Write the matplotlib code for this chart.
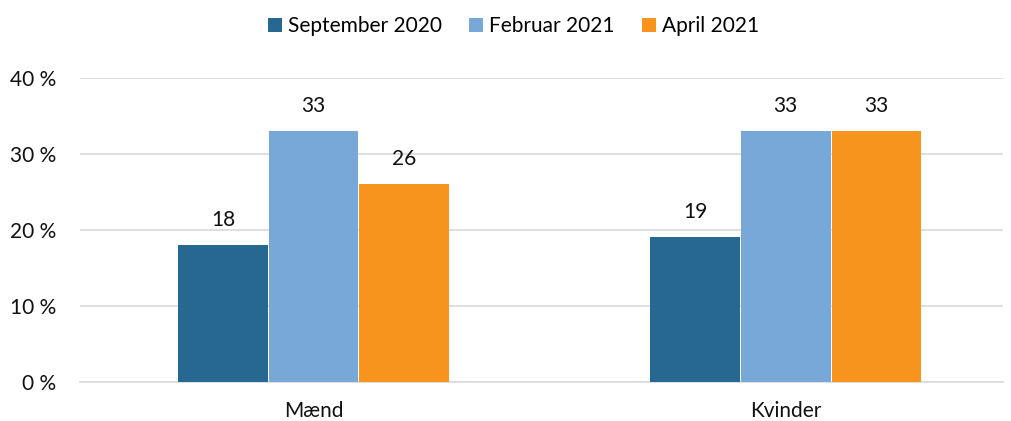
import numpy as np
import matplotlib.pyplot as plt

plt.rcParams['font.family'] = ['Lato', 'DejaVu Sans']

categories = ['Mænd', 'Kvinder']
series = ['September 2020', 'Februar 2021', 'April 2021']
values = [
    [18, 19],
    [33, 33],
    [26, 33],
]
colors = ['#276891', '#78A8D8', '#F7941D']

fig = plt.figure(figsize=(10.11, 4.21), dpi=100)
ax = fig.add_axes([0.079, 0.093, 0.913, 0.722])

x = np.arange(len(categories))
w = 0.192
for i, (name, vals) in enumerate(zip(series, values)):
    pos = x + (i - 1) * w
    bars = ax.bar(pos, vals, w * 0.99, color=colors[i], label=name, zorder=3)
    for b, v in zip(bars, vals):
        ax.text(b.get_x() + b.get_width() / 2, v + 3.3, str(v),
                ha='center', va='center', fontsize=15, color='#111111')

ax.set_xlim(-0.495, 1.46)
ax.set_ylim(0, 40)
ax.set_yticks([0, 10, 20, 30, 40])
ax.set_yticklabels(['0 %', '10 %', '20 %', '30 %', '40 %'])
ax.set_xticks(x)
ax.set_xticklabels(categories)
ax.tick_params(axis='both', length=0, labelsize=15, colors='#111111')
ax.tick_params(axis='y', pad=17)
ax.tick_params(axis='x', pad=14)
ax.yaxis.grid(True, color='#D9D9D9', linewidth=1.2, zorder=0)
for s in ['top', 'right', 'left']:
    ax.spines[s].set_visible(False)
ax.spines['bottom'].set_color('#D9D9D9')
ax.spines['bottom'].set_linewidth(1.2)

ax.legend(loc='center', bbox_to_anchor=(0.47, 1.17), ncol=3, frameon=False,
          fontsize=15, handlelength=0.67, handleheight=0.67, handletextpad=0.3,
          columnspacing=1.3)

fig.savefig('out.png', dpi=100)
